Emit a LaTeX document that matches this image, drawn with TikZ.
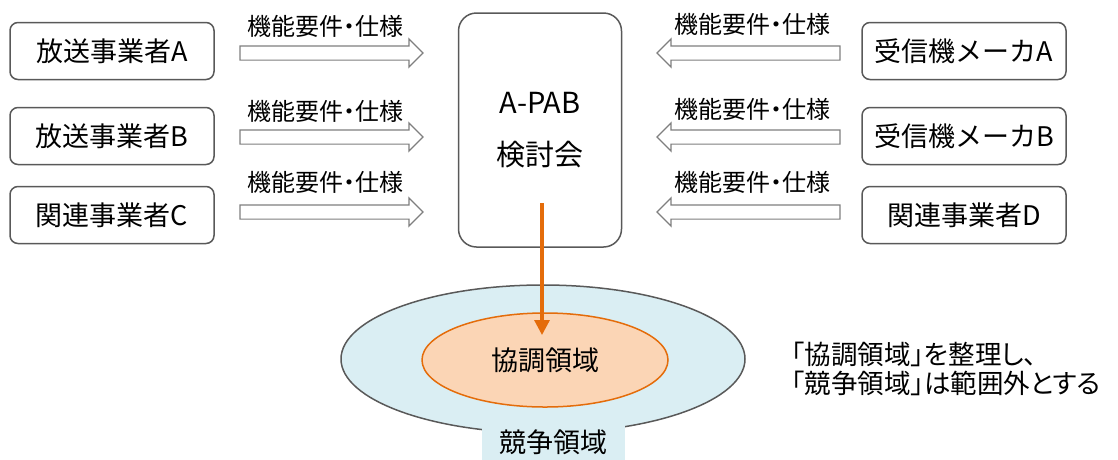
\documentclass[tikz,border=0pt]{standalone}
\usepackage{fontspec}
\setmainfont{Noto Sans CJK JP}
\newfontfamily\paltfont[RawFeature=+palt]{Noto Sans CJK JP}
\usetikzlibrary{positioning}
\usetikzlibrary{calc}
\usetikzlibrary{arrows.meta}
\usetikzlibrary{shapes}

\definecolor{boxgray}{HTML}{595959}
\definecolor{arrowgray}{HTML}{7F7F7F}
\definecolor{paleblue}{HTML}{DAEEF3}
\definecolor{peach}{HTML}{FBD5B5}
\definecolor{deeporange}{HTML}{E46C0A}

\begin{document}
\begin{tikzpicture}[x=1pt,y=-1pt]
	\tikzstyle{party} = [draw=boxgray,line width=1.5pt,rounded corners=8pt,minimum width=204pt,minimum height=57pt,font=\fontsize{27}{30}\selectfont]
	\tikzstyle{block} = [draw=arrowgray,line width=1.2pt,fill=white,single arrow,single arrow head extend=7pt,single arrow head indent=0pt,inner xsep=0pt,inner ysep=6.5pt,minimum height=183pt]
	\tikzstyle{spec} = [font=\paltfont\fontsize{24}{26}\selectfont]
	\tikzstyle{region} = [ellipse,line width=1.5pt]
	\tikzstyle{flow} = [draw=deeporange,line width=3.2pt,-{Triangle[width=15pt,length=15pt]}]

	\useasboundingbox (0,0) rectangle (1118,459);

	% proposers
	\node[party] at (112,51) (pa) {放送事業者A};
	\node[party] at (112,136) (pb) {放送事業者B};
	\node[party] at (112,215) (pc) {関連事業者C};
	\node[party] at (964,51) (ma) {受信機メーカA};
	\node[party] at (964,136) (mb) {受信機メーカB};
	\node[party] at (964,215) (pd) {関連事業者D};

	\node[draw=boxgray,line width=1.5pt,rounded corners=18pt,minimum width=163pt,minimum height=234pt,align=center,font=\fontsize{29}{52}\selectfont] at (540,130) (apab) {A-PAB\\検討会};

	% requirements
	\node[block] at (328,53) (ra) {};
	\node[block] at (328,137) (rb) {};
	\node[block] at (328,212) (rc) {};
	\node[block,shape border rotate=180] at (752,53) (qa) {};
	\node[block,shape border rotate=180] at (752,137) (qb) {};
	\node[block,shape border rotate=180] at (752,212) (qd) {};

	\node[spec] at (325,26) (la) {機能要件・仕様};
	\node[spec] at (325,111) (lb) {機能要件・仕様};
	\node[spec] at (325,182) (lc) {機能要件・仕様};
	\node[spec] at (752,24) (ka) {機能要件・仕様};
	\node[spec] at (752,109) (kb) {機能要件・仕様};
	\node[spec] at (752,182) (kd) {機能要件・仕様};

	% regions
	\node[region,draw=boxgray,fill=paleblue,minimum width=404pt,minimum height=148pt] at (543,359) (comp) {};
	\node[fill=paleblue,minimum width=143pt,minimum height=36pt,font=\fontsize{27}{30}\selectfont] at (553,442) (compl) {競争領域};
	\node[region,draw=deeporange,fill=peach,minimum width=246pt,minimum height=94pt,font=\fontsize{27}{30}\selectfont] at (545,360) (coop) {協調領域};

	\draw[flow] ($(apab.center)+(2,73)$) -- ($(coop.center)+(-3,-25)$);

	\node[anchor=west,align=left,font=\paltfont\fontsize{26.5}{29}\selectfont] at (788,369) (note) {「協調領域」を整理し、\\「競争領域」は範囲外とする};
\end{tikzpicture}
\end{document}
